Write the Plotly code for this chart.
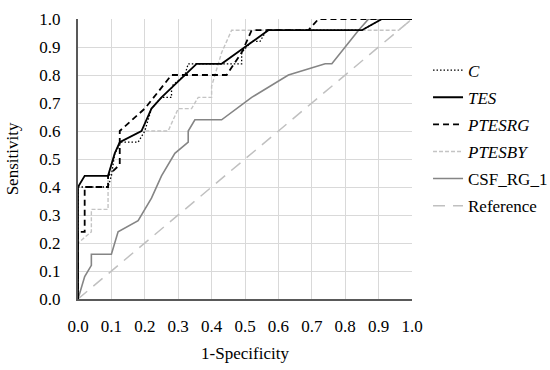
import plotly.graph_objects as go

# ---- data ----
C_x = [0, 0, 0.02, 0.09, 0.10, 0.11, 0.13, 0.18, 0.20, 0.22, 0.25, 0.28, 0.28, 0.32, 0.33, 0.36, 0.47, 0.49, 0.49, 0.52, 0.545, 0.565, 0.85, 0.91, 1.0]
C_y = [0, 0.40, 0.40, 0.40, 0.44, 0.52, 0.56, 0.56, 0.60, 0.68, 0.72, 0.72, 0.76, 0.80, 0.84, 0.84, 0.84, 0.84, 0.88, 0.92, 0.92, 0.96, 0.96, 1.0, 1.0]

TES_x = [0, 0, 0.02, 0.09, 0.11, 0.125, 0.19, 0.22, 0.25, 0.32, 0.355, 0.43, 0.57, 0.85, 0.91, 1.0]
TES_y = [0, 0.40, 0.44, 0.44, 0.52, 0.56, 0.60, 0.68, 0.72, 0.80, 0.84, 0.84, 0.96, 0.96, 1.0, 1.0]

PTESRG_x = [0, 0, 0.02, 0.02, 0.09, 0.09, 0.125, 0.125, 0.20, 0.28, 0.445, 0.49, 0.52, 0.69, 0.72, 1.0]
PTESRG_y = [0, 0.24, 0.24, 0.40, 0.40, 0.44, 0.48, 0.60, 0.68, 0.80, 0.80, 0.88, 0.96, 0.96, 1.0, 1.0]

PTESBY_x = [0, 0, 0.04, 0.04, 0.09, 0.09, 0.11, 0.125, 0.19, 0.27, 0.30, 0.34, 0.36, 0.40, 0.40, 0.43, 0.46, 0.96, 1.0]
PTESBY_y = [0, 0.20, 0.24, 0.32, 0.32, 0.44, 0.52, 0.56, 0.60, 0.60, 0.68, 0.68, 0.72, 0.72, 0.76, 0.88, 0.96, 0.96, 1.0]

CSF_x = [0, 0.02, 0.04, 0.04, 0.10, 0.12, 0.18, 0.22, 0.25, 0.29, 0.33, 0.33, 0.35, 0.43, 0.52, 0.63, 0.74, 0.76, 0.84, 0.87, 1.0]
CSF_y = [0, 0.08, 0.12, 0.16, 0.16, 0.24, 0.28, 0.36, 0.44, 0.52, 0.56, 0.60, 0.64, 0.64, 0.72, 0.80, 0.84, 0.84, 0.96, 1.0, 1.0]

REF_x = [0, 1]
REF_y = [0, 1]

tick_vals = [0, 0.1, 0.2, 0.3, 0.4, 0.5, 0.6, 0.7, 0.8, 0.9, 1.0]
tick_text = ["0.0", "0.1", "0.2", "0.3", "0.4", "0.5", "0.6", "0.7", "0.8", "0.9", "1.0"]

FONT = "'Liberation Serif', 'Times New Roman', serif"

fig = go.Figure()
fig.add_trace(go.Scatter(x=REF_x, y=REF_y, mode="lines", name="Reference", legendrank=6, legendgroup="f",
                         line=dict(color="#c0c0c0", width=1.5, dash="12px,8px")))
fig.add_trace(go.Scatter(x=CSF_x, y=CSF_y, mode="lines", name="CSF_RG_1", legendrank=5, legendgroup="e",
                         line=dict(color="#858585", width=1.6)))
fig.add_trace(go.Scatter(x=PTESBY_x, y=PTESBY_y, mode="lines", name="<i>PTESBY</i>", legendrank=4, legendgroup="d",
                         line=dict(color="#c4c4c4", width=1.4, dash="4px,2px")))
fig.add_trace(go.Scatter(x=PTESRG_x, y=PTESRG_y, mode="lines", name="<i>PTESRG</i>", legendrank=3, legendgroup="c",
                         line=dict(color="black", width=1.8, dash="6px,4px")))
fig.add_trace(go.Scatter(x=TES_x, y=TES_y, mode="lines", name="<i>TES</i>", legendrank=2, legendgroup="b",
                         line=dict(color="black", width=1.8)))
fig.add_trace(go.Scatter(x=C_x, y=C_y, mode="lines", name="<i>C</i>", legendrank=1, legendgroup="a",
                         line=dict(color="black", width=1.3, dash="1.5px,2px")))

axis_common = dict(
    range=[0, 1], tickvals=tick_vals, ticktext=tick_text,
    showgrid=True, gridcolor="#d9d9d9", gridwidth=1,
    zeroline=False, ticks="", automargin=False,
    tickfont=dict(family=FONT, size=17, color="black"),
)

fig.update_xaxes(**axis_common, showline=True, linecolor="#595959", linewidth=2,
                 title=dict(text="1-Specificity", font=dict(family=FONT, size=17, color="black"), standoff=12),
                 ticklabelstandoff=11)
fig.update_yaxes(**axis_common, showline=True, linecolor="#595959", linewidth=2,
                 title=dict(text="Sensitivity", font=dict(family=FONT, size=17, color="black"), standoff=16),
                 ticklabelstandoff=12)

fig.update_layout(
    width=550, height=370,
    margin=dict(l=78, r=138, t=19, b=71, autoexpand=False),
    plot_bgcolor="white", paper_bgcolor="white",
    font=dict(family=FONT, size=17, color="black"),
    legend=dict(x=1.048, y=0.88, xanchor="left", yanchor="top",
                font=dict(family=FONT, size=17, color="black"),
                traceorder="grouped", tracegroupgap=2,
                bgcolor="rgba(0,0,0,0)", itemwidth=30),
    showlegend=True,
)

fig.write_html("out.html", config={"displayModeBar": False},
               post_script="document.body.style.margin='0px';")
